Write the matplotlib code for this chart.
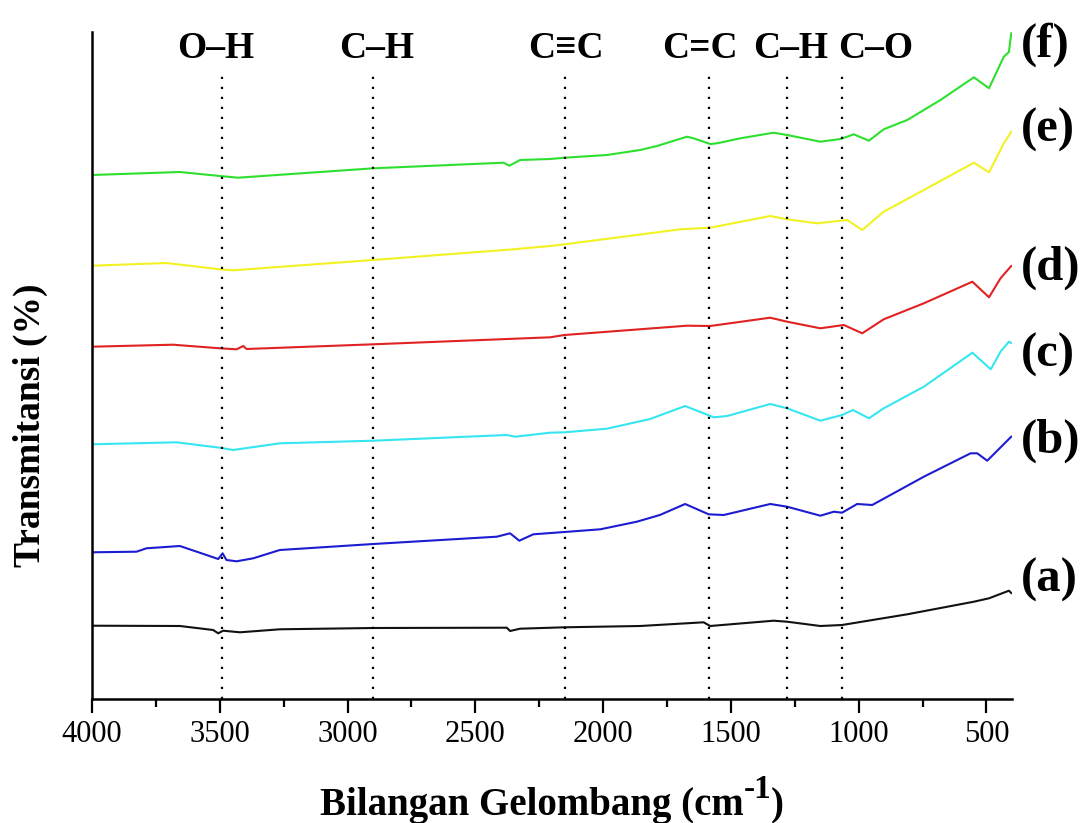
import numpy as np
import matplotlib
matplotlib.use("Agg")
import matplotlib.pyplot as plt
import matplotlib.transforms as mtransforms

# font Times-like
plt.rcParams['font.family'] = ['Liberation Serif', 'DejaVu Serif']

# (a) black
wn_a = [4000, 3656, 3526, 3506, 3487, 3421, 3265, 2899, 2377, 2364, 2325, 2151, 1855,
        1607, 1581, 1333, 1280, 1150, 1065, 810, 549, 490, 412, 403]
t_a = [73.3, 73, 69, 65.7, 68.3, 66.7, 69.7, 71, 71.3, 68, 70.3, 71.7, 73,
       76.7, 73, 78.3, 77.3, 73, 74, 84.7, 97.3, 100.7, 108.3, 106]

# (b) blue
wn_b = [4000, 3826, 3787, 3656, 3506, 3489, 3474, 3434, 3369, 3265, 2899, 2416, 2364,
        2328, 2273, 2151, 2011, 1868, 1778, 1679, 1587, 1528, 1346, 1280, 1150, 1097,
        1065, 1006, 947, 745, 562, 536, 497, 403]
t_b = [146.7, 147.3, 150.7, 153, 140, 145.7, 139, 137.7, 140.7, 149, 155, 162.3, 165.7,
       158.3, 164.7, 167, 169.7, 177.3, 184, 195, 184.7, 184, 195, 192.3, 183.3, 187.3,
       186.3, 195, 194, 222.3, 245.7, 245.7, 238.3, 262.3]

# (c) cyan
wn_c = [4000, 3670, 3500, 3448, 3265, 2899, 2377, 2344, 2207, 2151, 1985, 1816, 1679,
        1567, 1515, 1346, 1280, 1150, 1065, 1022, 960, 902, 745, 555, 483, 445, 412, 403]
t_c = [254.7, 256.7, 251.3, 249, 255.7, 258.3, 264, 262.3, 266.3, 266.7, 270.3, 280, 293,
       281.7, 283, 295, 290.7, 278.3, 284, 289, 280.7, 290.7, 312.3, 346.3, 329.7, 347.3,
       357.3, 356]

# (d) red
wn_d = [4000, 3683, 3500, 3434, 3408, 3395, 2899, 2207, 2151, 1672, 1581, 1346, 1280,
        1150, 1058, 986, 902, 745, 555, 490, 445, 403]
t_d = [352.3, 354.3, 350.7, 349.7, 353, 350, 354.7, 361.7, 364, 373.3, 373, 381.3, 377.3,
       370.7, 374, 365.7, 379.7, 395.7, 417.3, 401.7, 420.7, 433]

# (e) yellow
wn_e = [4000, 3709, 3500, 3448, 2899, 2351, 2207, 2151, 1920, 1698, 1581, 1346, 1280,
        1163, 1045, 986, 902, 745, 549, 490, 432, 403]
t_e = [433.3, 436, 429.7, 428.7, 439, 449.7, 453, 454.7, 462.3, 469.7, 471.3, 483, 479.7,
       475.7, 479, 469, 487.3, 509, 536.3, 526.7, 555.7, 567.3]

# (f) green
wn_f = [4000, 3656, 3500, 3428, 2899, 2390, 2367, 2325, 2207, 2151, 1985, 1855, 1789,
        1672, 1646, 1581, 1554, 1463, 1333, 1280, 1150, 1071, 1019, 960, 902, 810, 680,
        549, 490, 432, 412, 403]
t_f = [524, 527, 523, 521.3, 530.7, 536.3, 533.3, 539, 540, 541.3, 544, 549, 553,
       562.3, 560.7, 555, 555.7, 560.7, 566.3, 564, 557.3, 560, 564.7, 558.3, 569.7, 579, 599,
       621.7, 610.7, 642.3, 647, 665.7]

series_wn = [wn_a, wn_b, wn_c, wn_d, wn_e, wn_f]
series_t = [t_a, t_b, t_c, t_d, t_e, t_f]
colors = ['#111111', '#1c1cd2', '#35e6f0', '#e02222', '#f2f222', '#2ee02e']
names = ['(a)', '(b)', '(c)', '(d)', '(e)', '(f)']
name_y = [119, 258, 344, 431, 569, 654]

# gugus fungsi
bond_pos = [3490, 2900, 2150, 1587, 1280, 1065]
bond_text = ['O\u2013H', 'C\u2013H', 'C\u2261C', 'C=C', 'C\u2013H', 'C\u2013O']
bond_text_x = [3515, 2885, 2145, 1620, 1265, 935]

fig = plt.figure(figsize=(10.88, 8.23), dpi=100)
ax = fig.add_axes([92/1088, 1-699/823, 920/1088, 667/823])

for w, t, c in zip(series_wn, series_t, colors):
    ax.plot(w, t, color=c, lw=1.5)

for p in bond_pos:
    ax.plot([p, p], [0, 624], color='black', lw=1.6, linestyle=(0, (1, 3.5)))

for tx, s in zip(bond_text_x, bond_text):
    ax.text(tx, 650, s, ha='center', va='center', fontsize=27, fontweight='bold')

trans = mtransforms.blended_transform_factory(ax.transAxes, ax.transData)
for n, y in zip(names, name_y):
    ax.text(1.01, y, n, transform=trans, ha='left', va='center',
            fontsize=35, fontweight='bold', clip_on=False)

ax.set_xlim(4000, 400)
ax.set_ylim(0, 667)
ax.set_xticks([4000, 3500, 3000, 2500, 2000, 1500, 1000, 500])
ax.set_xticks(np.arange(3750, 400, -500), minor=True)
ax.set_yticks([])
ax.spines['top'].set_visible(False)
ax.spines['right'].set_visible(False)
ax.spines['left'].set_linewidth(1.8)
ax.spines['bottom'].set_linewidth(1.8)
ax.tick_params(axis='x', which='major', direction='out', length=10, width=1.6,
               labelsize=22, pad=5)
ax.tick_params(axis='x', which='minor', direction='out', length=6, width=1.6)

# label sumbu x, superskrip digambar terpisah
W, H = 1088, 823
yb = 1 - 815/H
fig.canvas.draw()
r = fig.canvas.get_renderer()
t1 = fig.text(0, yb, 'Bilangan Gelombang (cm', fontsize=28, fontweight='bold', va='baseline')
t2 = fig.text(0, yb + 17/H, '-1', fontsize=24, fontweight='bold', va='baseline')
t3 = fig.text(0, yb, ')', fontsize=28, fontweight='bold', va='baseline')
w1 = t1.get_window_extent(r).width
w2 = t2.get_window_extent(r).width
w3 = t3.get_window_extent(r).width
x0 = 552 - (w1 + w2 + w3) / 2
t1.set_x(x0 / W)
t2.set_x((x0 + w1) / W)
t3.set_x((x0 + w1 + w2) / W)

fig.text(30/W, 1-425/H, 'Transmitansi (%)', rotation=90,
         ha='center', va='center', fontsize=27, fontweight='bold')

fig.savefig('out.png', dpi=100)
